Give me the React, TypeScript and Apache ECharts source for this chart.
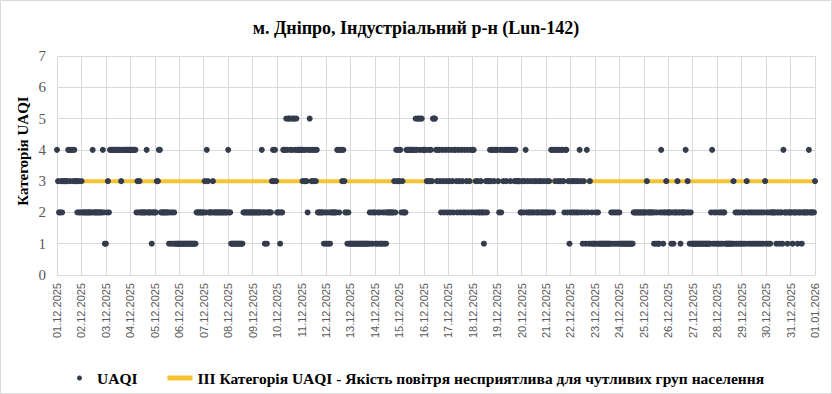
import React, { useEffect, useRef } from "react";
import * as echarts from "echarts";

// Tick labels (one per day, at 00:00)
const dateLabels = [
  "01.12.2025", "02.12.2025", "03.12.2025", "04.12.2025", "05.12.2025", "06.12.2025",
  "07.12.2025", "08.12.2025", "09.12.2025", "10.12.2025", "11.12.2025", "12.12.2025",
  "13.12.2025", "14.12.2025", "15.12.2025", "16.12.2025", "17.12.2025", "18.12.2025",
  "19.12.2025", "20.12.2025", "21.12.2025", "22.12.2025", "23.12.2025", "24.12.2025",
  "25.12.2025", "26.12.2025", "27.12.2025", "28.12.2025", "29.12.2025", "30.12.2025",
  "31.12.2025", "01.01.2026",
];

// Hourly UAQI category, 24 values per day (hours 00..23)
const d01 = [4,3,2,2,3,2,3,3,3,3,3,4,4,3,4,4,3,4,3,3,2,3,2,2];
const d02 = [3,2,2,2,2,2,2,2,2,2,2,4,2,2,2,2,2,2,2,2,2,4,2,1];
const d03 = [1,2,3,2,4,4,4,4,4,4,4,4,4,4,4,3,4,4,4,4,4,4,4,4];
const d04 = [4,4,4,4,4,4,2,3,2,3,2,2,2,2,2,2,4,2,2,2,2,1,2,2];
const d05 = [2,2,3,3,4,4,2,2,2,2,2,2,2,2,1,2,1,2,1,2,1,1,1,1];
const d06 = [1,1,1,1,1,1,1,1,1,1,1,1,1,1,1,1,1,2,2,2,2,2,2,2];
const d07 = [2,3,2,4,3,2,2,2,2,3,2,2,2,2,2,2,2,2,2,2,2,2,2,2];
const d08 = [4,2,2,1,1,1,1,1,1,1,1,1,1,1,1,2,2,2,2,2,2,2,2,2];
const d09 = [2,2,2,2,2,2,2,2,2,4,2,2,1,2,1,2,2,2,2,3,4,3,4,3];
const d10 = [2,2,2,1,2,2,4,4,4,5,4,5,5,4,5,4,5,5,4,5,4,4,4,4];
const d11 = [4,3,4,3,4,3,2,4,5,4,3,4,3,4,3,4,2,2,2,2,2,2,1,2];
const d12 = [1,2,1,2,1,2,2,2,2,2,2,4,4,2,4,4,3,4,3,2,2,1,2,1];
const d13 = [1,1,1,1,1,1,1,1,1,1,1,1,1,1,1,1,1,1,1,2,1,2,1,2];
const d14 = [2,1,1,2,1,2,1,1,2,1,2,1,2,2,2,2,2,2,2,3,2,4,3,4];
const d15 = [3,4,2,3,2,2,2,4,4,4,4,4,4,4,4,4,5,4,5,5,4,5,5,4];
const d16 = [4,4,4,3,3,4,3,4,3,5,5,5,4,3,4,4,3,2,4,3,2,4,3,2];
const d17 = [4,3,2,4,3,2,4,4,3,2,4,3,2,4,3,2,4,2,3,4,2,3,4,2];
const d18 = [4,4,2,3,2,3,2,2,3,2,2,1,2,3,2,3,3,4,3,4,4,3,4,4];
const d19 = [4,3,2,4,2,4,3,4,4,3,4,4,4,3,4,4,4,3,4,3,3,3,3,2];
const d20 = [2,3,2,3,4,2,3,2,2,3,2,2,3,2,3,2,2,3,2,3,2,2,3,2];
const d21 = [2,3,2,3,2,4,4,2,4,3,4,4,3,4,3,4,4,3,2,4,4,2,3,1];
const d22 = [2,3,2,3,2,3,2,3,2,4,3,2,1,3,2,1,4,2,1,3,1,2,1,1];
const d23 = [1,2,1,2,1,1,1,1,1,1,1,1,1,1,1,1,2,1,2,1,2,1,2,1];
const d24 = [2,1,1,1,1,1,1,1,1,1,1,1,1,1,2,2,2,2,2,2,2,2,2,2];
const d25 = [2,2,2,3,2,2,2,2,2,2,1,2,1,2,1,1,2,4,2,1,2,2,3,2];
const d26 = [2,2,2,1,2,1,2,2,2,3,2,2,1,2,2,2,2,4,2,3,2,1,2,1];
const d27 = [1,1,1,1,1,1,1,1,1,1,1,1,1,1,1,1,1,1,2,4,1,2,1,2];
const d28 = [1,1,2,1,2,1,2,2,1,1,1,1,1,1,1,1,3,1,2,1,2,1,2,1];
const d29 = [1,2,1,2,1,3,2,1,2,1,2,1,2,1,2,1,2,1,2,1,2,1,2,3];
const d30 = [1,2,1,2,1,2,2,2,2,2,1,2,2,1,2,2,1,4,2,2,2,1,2,2];
const d31 = [2,2,1,2,2,2,2,1,2,2,2,1,2,2,2,2,2,2,4,2,2,2,2,2];
const lastValue = 3; // 01.01.2026 00:00

// Threshold: category III
const thresholdLevel = 3;

const days = [d01,d02,d03,d04,d05,d06,d07,d08,d09,d10,d11,d12,d13,d14,d15,d16,
  d17,d18,d19,d20,d21,d22,d23,d24,d25,d26,d27,d28,d29,d30,d31];

export default function App() {
  const ref = useRef<HTMLDivElement>(null);
  useEffect(() => {
    if (!ref.current) return;
    const chart = echarts.init(ref.current, null, { renderer: "svg" });
    const points: number[][] = [];
    days.forEach((arr, d) => arr.forEach((v, h) => points.push([d * 24 + h, v])));
    points.push([days.length * 24, lastValue]);
    const maxX = days.length * 24;

    chart.setOption({
      animation: false,
      backgroundColor: "#ffffff",
      title: {
        text: "м. Дніпро, Індустріальний р-н (Lun-142)",
        left: "center",
        top: 14,
        textStyle: { fontFamily: "Liberation Serif", fontWeight: "bold", fontSize: 18, color: "#000" },
      },
      grid: { left: 57, right: 17, top: 56, bottom: 119, containLabel: false },
      xAxis: {
        type: "value",
        min: 0,
        max: maxX,
        interval: 24,
        axisLine: { show: true, lineStyle: { color: "#d9d9d9" } },
        axisTick: { show: false },
        splitLine: { show: true, lineStyle: { color: "#d9d9d9", width: 1 } },
        axisLabel: {
          rotate: 90,
          margin: 8,
          fontFamily: "Liberation Sans",
          fontSize: 11,
          color: "#595959",
          showMinLabel: true,
          showMaxLabel: true,
          formatter: (v: number) => dateLabels[Math.round(v / 24)] ?? "",
        },
      },
      yAxis: {
        type: "value",
        min: 0,
        max: 7,
        interval: 1,
        axisLine: { show: false },
        axisTick: { show: false },
        splitLine: { show: true, lineStyle: { color: "#d9d9d9", width: 1 } },
        axisLabel: { margin: 11, fontFamily: "Liberation Serif", fontSize: 15, color: "#595959" },
      },
      legend: {
        top: 365,
        left: 72,
        itemWidth: 25,
        itemHeight: 5,
        itemGap: 30,
        textStyle: { fontFamily: "Liberation Serif", fontWeight: "bold", fontSize: 15.5, color: "#000" },
        data: [
          { name: "UAQI", icon: "circle" },
          { name: "III Категорія UAQI - Якість повітря несприятлива для чутливих груп населення", icon: "rect" },
        ],
      },
      graphic: [
        {
          type: "rect",
          shape: { x: 0.5, y: 0.5, width: 831, height: 393 },
          style: { fill: "none", stroke: "#d9d9d9", lineWidth: 1 },
          silent: true,
        },
        {
          type: "text",
          x: 23,
          y: 151,
          rotation: Math.PI / 2,
          style: {
            text: "Категорія UAQI",
            fontFamily: "Liberation Serif",
            fontWeight: "bold",
            fontSize: 15,
            fill: "#000",
            textAlign: "center",
            textVerticalAlign: "middle",
          },
        },
      ],
      series: [
        {
          name: "III Категорія UAQI - Якість повітря несприятлива для чутливих груп населення",
          type: "line",
          data: [[0, thresholdLevel], [maxX, thresholdLevel]],
          symbol: "none",
          lineStyle: { color: "#F3C331", width: 4 },
          itemStyle: { color: "#F3C331" },
          z: 2,
        },
        {
          name: "UAQI",
          type: "scatter",
          data: points,
          symbol: "circle",
          symbolSize: 6,
          itemStyle: { color: "#333b4d", opacity: 1 },
          z: 3,
        },
      ],
    });
    return () => chart.dispose();
  }, []);
  return (
    <div
      ref={ref}
      style={{ position: "absolute", left: 0, top: 0, width: 832, height: 394 }}
    />
  );
}
